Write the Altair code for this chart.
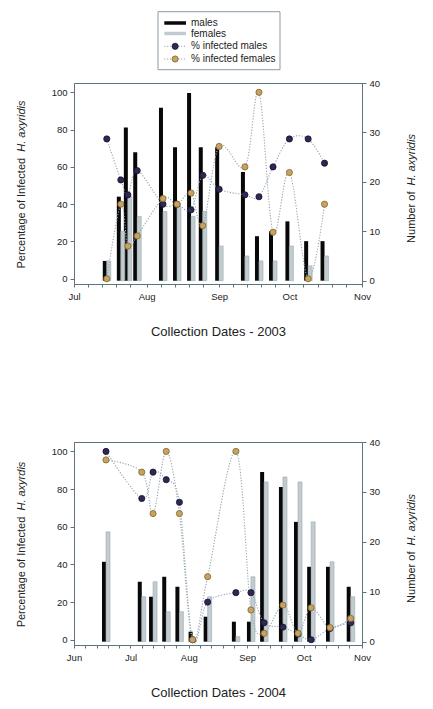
import altair as alt
import pandas as pd

# ---------------- data: 2003 ----------------
dates_2003 = ["2003-07-15", "2003-07-21", "2003-07-24", "2003-07-28", "2003-08-08",
              "2003-08-14", "2003-08-20", "2003-08-25", "2003-09-01", "2003-09-12",
              "2003-09-18", "2003-09-24", "2003-10-01", "2003-10-09", "2003-10-16"]
males_2003 = [4, 17, 31, 26, 35, 27, 38, 27, 27, 22, 9, 10, 12, 8, 8]
females_2003 = [4, 10, 17, 13, 14, 15, 13, 14, 7, 5, 4, 4, 7, 3, 5]
pct_males_2003 = [75, 53, 45, 58, 40, 40, 37, 55.5, 48, 45, 44, 60, 75, 75, 62]
pct_females_2003 = [0, 40, 17.5, 23, 43, 40, 46, 28.5, 71, 60, 100, 25, 57, 0, 40]

# ---------------- data: 2004 ----------------
dates_2004 = ["2004-06-18", "2004-07-07", "2004-07-13", "2004-07-20", "2004-07-27",
              "2004-08-03", "2004-08-11", "2004-08-26", "2004-09-03", "2004-09-10",
              "2004-09-20", "2004-09-28", "2004-10-05", "2004-10-15", "2004-10-26"]
males_2004 = [16, 12, 9, 13, 11, 2, 5, 4, 4, 34, 31, 24, 15, 15, 11]
females_2004 = [22, 9, 12, 6, 6, 0, 9, 1, 13, 32, 33, 32, 24, 16, 9]
pct_males_2004 = [100, 75, 89, 85, 73, 0, 20, 25, 25, 9, 6.7, 3, 0, 6, 9]
pct_females_2004 = [95.5, 89, 67, 100, 67, 0, 33.5, 100, 15.8, 3.4, 18.4, 3.4, 17, 6.4, 11.3]

legend_labels = ["males", "females", "% infected males", "% infected females"]
pct_ticks = [0, 20, 40, 60, 80, 100]
count_ticks = [0, 10, 20, 30, 40]

# ---------------- style ----------------
FONT = "Liberation Sans"
PURPLE = "#2e2852"
PURPLE_EDGE = "#17132e"
TAN = "#c9a35e"
TAN_EDGE = "#7d6434"
LINE = "#93a6b3"
AXIS = "#5c7380"
MALE = "#080808"
FEMALE = "#c2ccd0"
FEMALE_EDGE = "#9aa9af"
TXT = "#222222"

W = 288
H_TOP = 201
H_BOT = 203
FS_T = 11  # y title font size


def dt(s):
    y, m, d = (int(p) for p in s.split("-"))
    return alt.DateTime(year=y, month=m, date=d, utc=True)


def month_ticks(year, first_month, last_month):
    out = []
    for m in range(first_month, last_month + 1):
        for d in (1, 7, 13, 19, 25):
            out.append(f"{year}-{m:02d}-{d:02d}")
    out.append(f"{year}-{last_month + 1:02d}-01")
    return out


def rot_title(parts, x_pos, center):
    """parts: list of (text, width_em, italic). Rotated text reading bottom-to-top."""
    gap = 0.556 * FS_T
    total = sum(w for _, w, _ in parts) * FS_T + gap * (len(parts) - 1)
    pos = center + total / 2  # bottom start
    layers = []
    for text, w_em, italic in parts:
        kw = dict(angle=270, align="left", baseline="middle", fontSize=FS_T,
                  color=TXT, font=FONT)
        if italic:
            kw["fontStyle"] = "italic"
        layers.append(
            alt.Chart(pd.DataFrame({"t": [text]})).mark_text(**kw).encode(
                text="t:N", x=alt.value(x_pos), y=alt.value(pos))
        )
        pos -= w_em * FS_T + gap
    return layers


def legend_layers():
    rows_y = [-60, -49.5, -36.7, -24]
    box_l, box_r = 84, 206
    sx1, sx2 = box_l + 6.3, box_l + 28
    cx = (sx1 + sx2) / 2
    one = pd.DataFrame({"k": [0]})
    layers = [
        alt.Chart(one).mark_rect(fill="white", stroke="#8c9ba5", strokeWidth=1).encode(
            x=alt.value(box_l), x2=alt.value(box_r), y=alt.value(-71.3), y2=alt.value(-13.3))
    ]
    layers.append(alt.Chart(one).mark_rule(strokeWidth=3.5, color=MALE).encode(
        x=alt.value(sx1), x2=alt.value(sx2), y=alt.value(rows_y[0])))
    layers.append(alt.Chart(one).mark_rule(strokeWidth=3.5, color=FEMALE).encode(
        x=alt.value(sx1), x2=alt.value(sx2), y=alt.value(rows_y[1])))
    for i, (fill, edge) in zip((2, 3), ((PURPLE, PURPLE_EDGE), (TAN, TAN_EDGE))):
        layers.append(alt.Chart(one).mark_rule(strokeWidth=1, strokeDash=[1.2, 1.6], color=LINE).encode(
            x=alt.value(sx1), x2=alt.value(sx2), y=alt.value(rows_y[i])))
        layers.append(alt.Chart(one).mark_circle(size=38, opacity=1, color=fill, stroke=edge,
                                                 strokeWidth=0.8).encode(
            x=alt.value(cx), y=alt.value(rows_y[i])))
    for i, lab in enumerate(legend_labels):
        layers.append(alt.Chart(pd.DataFrame({"label": [lab]})).mark_text(
            align="left", baseline="middle", fontSize=10, color=TXT, font=FONT).encode(
            text="label:N", x=alt.value(box_l + 33), y=alt.value(rows_y[i])))
    return layers


def panel(dates, males, females, pm, pf, start, end, ticks, xtitle, left_parts, H, with_legend):
    df = pd.DataFrame({"date": dates, "males": males, "females": females, "pm": pm, "pf": pf})
    x = alt.X("date:T",
              scale=alt.Scale(type="utc", domain=[dt(start), dt(end)], nice=False, padding=0),
              axis=alt.Axis(values=[dt(t) for t in ticks],
                            labelExpr="utcFormat(datum.value, '%d') == '01' ? utcFormat(datum.value, '%b') : ''",
                            title=xtitle, labelOverlap=False, labelFlush=False, tickSize=3,
                            labelPadding=4, titlePadding=25, grid=False))
    count_scale = alt.Scale(domain=[-0.67, 40], nice=False)
    pct_scale = alt.Scale(domain=[-2.8, 105], nice=False)
    count_axis = alt.Axis(orient="right", values=count_ticks, title=None, tickSize=4,
                          labelPadding=3, grid=False)
    pct_axis = alt.Axis(orient="left", values=pct_ticks, title=None, tickSize=4,
                        labelPadding=3, grid=False)

    male_bar = alt.Chart().mark_bar(width=4, xOffset=-2, color=MALE).encode(
        x=x, y=alt.Y("males:Q", scale=count_scale, axis=count_axis), y2=alt.datum(0))
    female_bar = alt.Chart().mark_bar(width=4, xOffset=2, fill=FEMALE, stroke=FEMALE_EDGE,
                                      strokeWidth=0.6).encode(
        x=x, y=alt.Y("females:Q", scale=count_scale, axis=count_axis), y2=alt.datum(0))
    bars = alt.layer(male_bar, female_bar)

    line_kw = dict(interpolate="cardinal", strokeDash=[1.2, 1.6], strokeWidth=1.1, color=LINE)
    line_m = alt.Chart().mark_line(**line_kw).encode(
        x=x, y=alt.Y("pm:Q", scale=pct_scale, axis=pct_axis))
    line_f = alt.Chart().mark_line(**line_kw).encode(
        x=x, y=alt.Y("pf:Q", scale=pct_scale, axis=pct_axis))
    pt_m = alt.Chart().mark_circle(size=38, opacity=1, color=PURPLE, stroke=PURPLE_EDGE,
                                   strokeWidth=0.8).encode(
        x=x, y=alt.Y("pm:Q", scale=pct_scale, axis=pct_axis))
    pt_f = alt.Chart().mark_circle(size=38, opacity=1, color=TAN, stroke=TAN_EDGE,
                                   strokeWidth=0.8).encode(
        x=x, y=alt.Y("pf:Q", scale=pct_scale, axis=pct_axis))
    lines = alt.layer(line_m, line_f, pt_m, pt_f)

    titles = rot_title(left_parts, -52, H / 2 + 1)
    titles += rot_title([("Number of", 4.668, False), ("H. axyridis", 4.667, True)], W + 50, H / 2 + 5)

    extra = legend_layers() if with_legend else []
    return alt.layer(bars, lines, *titles, *extra, data=df).resolve_scale(
        y="independent").properties(width=W, height=H)


top = panel(dates_2003, males_2003, females_2003, pct_males_2003, pct_females_2003,
            "2003-07-01", "2003-11-01", month_ticks(2003, 7, 10), "Collection  Dates - 2003",
            [("Percentage of Infected", 10.06, False), ("H. axyridis", 4.667, True)],
            H_TOP, True)
bottom = panel(dates_2004, males_2004, females_2004, pct_males_2004, pct_females_2004,
               "2004-06-01", "2004-11-01", month_ticks(2004, 6, 10), "Collection Dates - 2004",
               [("Percentage of Infected", 10.06, False), ("H. axyrdis", 4.445, True)],
               H_BOT, False)

chart = alt.vconcat(top, bottom, spacing=97).properties(
    padding={"left": 7, "top": 2, "right": 5, "bottom": 5}
).configure(font=FONT).configure_view(
    stroke=AXIS, strokeWidth=1
).configure_axis(
    domainColor=AXIS, tickColor=AXIS, labelColor=TXT, titleColor=TXT,
    labelFontSize=9.5, titleFontSize=13, titleFontWeight="normal",
    labelFont=FONT, titleFont=FONT
)

chart.save("out.html", embed_options={"renderer": "svg", "actions": False})
